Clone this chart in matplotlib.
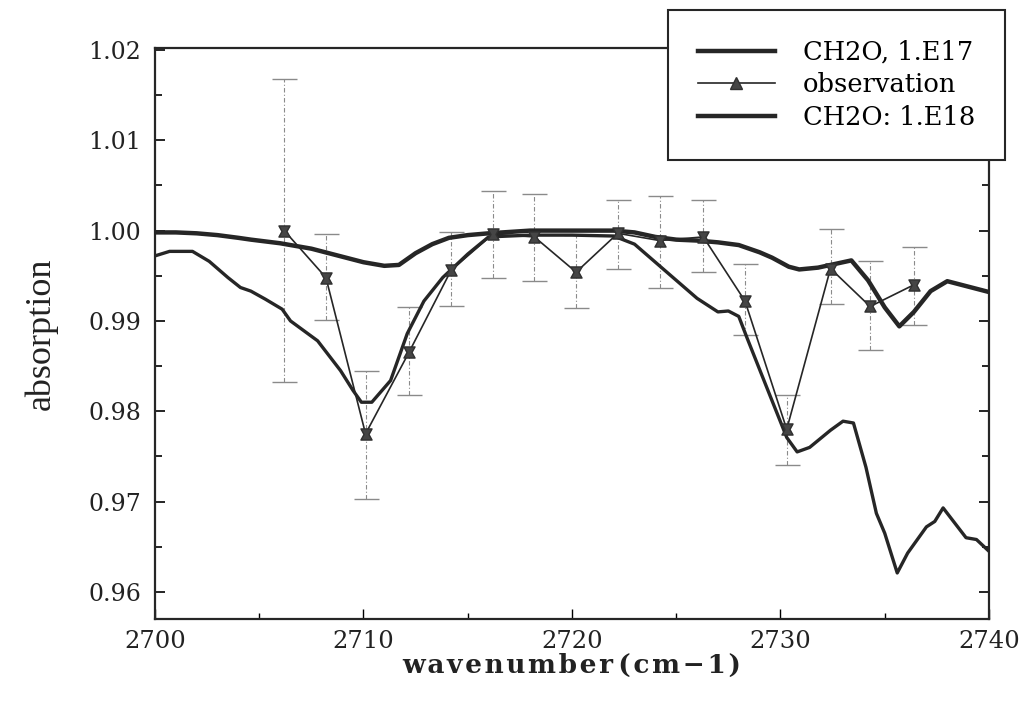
import numpy as np
import matplotlib
matplotlib.use("Agg")
import matplotlib.pyplot as plt
from matplotlib.lines import Line2D
from matplotlib.path import Path

# model spectrum, CH2O column 1.E17
x_e17 = [2700, 2701, 2702, 2703, 2704, 2704.6, 2706, 2707.5, 2709, 2710,
         2711, 2711.7, 2712.5, 2713.3, 2714.1, 2715, 2716, 2718, 2720, 2722,
         2723, 2724, 2725, 2726, 2727, 2728, 2729, 2729.6, 2730.4, 2730.9,
         2731.8, 2732.6, 2733.4, 2734.2, 2735, 2735.7, 2736.4, 2737.2, 2738,
         2739, 2740]
y_e17 = [0.9998, 0.9998, 0.9997, 0.9995, 0.9992, 0.9990, 0.9986, 0.9980,
         0.9971, 0.9965, 0.9961, 0.9962, 0.9975, 0.9985, 0.9992, 0.9995,
         0.9997, 1.0000, 1.0000, 1.0000, 0.9998, 0.9993, 0.9990, 0.9989,
         0.9987, 0.9984, 0.9976, 0.9970, 0.9960, 0.9957, 0.9959, 0.9963,
         0.9967, 0.9945, 0.9915, 0.9894, 0.9910, 0.9933, 0.9944, 0.9938,
         0.9932]

# model spectrum, CH2O column 1.E18
x_e18 = [2700, 2700.7, 2701.8, 2702.6, 2703.5, 2704.1, 2704.6, 2705.3, 2706.1,
         2706.5, 2707.8, 2708.9, 2709.5, 2709.9, 2710.4, 2711.3, 2712.1,
         2712.9, 2713.8, 2715, 2716, 2718, 2720, 2722, 2723, 2724, 2725,
         2726, 2727, 2727.5, 2728, 2728.4, 2729.4, 2730.3, 2730.8, 2731.4,
         2732.4, 2733, 2733.5, 2734.1, 2734.6, 2735, 2735.6, 2736.1, 2737,
         2737.4, 2737.8, 2738.9, 2739.4, 2740]
y_e18 = [0.9972, 0.9977, 0.9977, 0.9966, 0.9948, 0.9937, 0.9933, 0.9924,
         0.9913, 0.9900, 0.9878, 0.9845, 0.9823, 0.9810, 0.9810, 0.9834,
         0.9886, 0.9922, 0.9948, 0.9974, 0.9993, 0.9995, 0.9995, 0.9994,
         0.9985, 0.9965, 0.9945, 0.9925, 0.9910, 0.9911, 0.9905, 0.9881,
         0.9823, 0.9771, 0.9755, 0.9760, 0.9779, 0.9789, 0.9787, 0.9738,
         0.9687, 0.9665, 0.9621, 0.9643, 0.9672, 0.9678, 0.9693, 0.9660,
         0.9658, 0.9645]

# observation with error bars
x_obs = [2706.2, 2708.2, 2710.1, 2712.2, 2714.2, 2716.2, 2718.2, 2720.2,
         2722.2, 2724.2, 2726.3, 2728.3, 2730.3, 2732.4, 2734.3, 2736.4]
y_obs = [1.0000, 0.9948, 0.9775, 0.9866, 0.9956, 0.9996, 0.9993, 0.9954,
         0.9997, 0.9989, 0.9993, 0.9922, 0.9780, 0.9958, 0.9916, 0.9940]
err_hi = [1.0168, 0.9996, 0.9845, 0.9915, 0.9999, 1.0044, 1.0040, 0.9995,
          1.0034, 1.0038, 1.0034, 0.9963, 0.9818, 1.0002, 0.9966, 0.9982]
err_lo = [0.9832, 0.9901, 0.9703, 0.9818, 0.9916, 0.9948, 0.9944, 0.9914,
          0.9958, 0.9936, 0.9954, 0.9884, 0.9741, 0.9919, 0.9868, 0.9895]

y_ticks = [0.96, 0.97, 0.98, 0.99, 1.00, 1.01, 1.02]
x_ticks = [2700, 2710, 2720, 2730, 2740]

ink = "#262626"
serif = "DejaVu Serif"

fig = plt.figure(figsize=(10.29, 7.08), dpi=100)
ax = fig.add_axes([0.1506, 0.1257, 0.8105, 0.8063])

# hourglass marker like the scanned plot
hourglass = Path([(-1, 1), (1, 1), (0.45, 0), (1, -1), (-1, -1), (-0.45, 0), (-1, 1)],
                 [Path.MOVETO] + [Path.LINETO] * 5 + [Path.CLOSEPOLY])

y_obs_a = np.array(y_obs)
yerr = [y_obs_a - np.array(err_lo), np.array(err_hi) - y_obs_a]
eb = ax.errorbar(x_obs, y_obs, yerr=yerr, fmt="none", ecolor="#8a8a8a",
                 elinewidth=0.8, capsize=9, capthick=1.0, zorder=2)
eb[2][0].set_linestyle((0, (4, 2, 1, 2)))

ax.plot(x_e17, y_e17, color=ink, lw=3.2, zorder=3)
ax.plot(x_e18, y_e18, color=ink, lw=2.4, zorder=3)
ax.plot(x_obs, y_obs, color=ink, lw=1.2, marker=hourglass, ms=8,
        mfc="#454545", mec="#303030", zorder=4)

ax.set_xlim(2700, 2740)
ax.set_ylim(0.957, 1.0202)
ax.set_xticks(x_ticks)
ax.set_xticks(np.arange(2705, 2740, 10), minor=True)
ax.set_yticks(y_ticks)
ax.set_yticks(np.arange(0.965, 1.02, 0.01), minor=True)
ax.set_yticklabels([f"{v:.2f}" for v in y_ticks])
ax.tick_params(axis="y", which="both", direction="in", left=True, right=True,
               labelsize=17, pad=10, width=1.2)
ax.tick_params(axis="y", which="major", length=7)
ax.tick_params(axis="y", which="minor", length=5)
ax.tick_params(axis="x", which="both", direction="in", top=False,
               labelsize=17.5, pad=8, width=1.0)
ax.tick_params(axis="x", which="major", length=7)
ax.tick_params(axis="x", which="minor", length=4)
for lab in ax.get_xticklabels() + ax.get_yticklabels():
    lab.set_family(serif)
    lab.set_color("#222222")
for sp in ax.spines.values():
    sp.set_linewidth(1.6)
    sp.set_color(ink)

ax.set_xlabel("w a v e n u m b e r  ( c m \u2212 1 )".replace(" ", "\u200a"),
              family=serif, fontsize=19, fontweight="bold", labelpad=0,
              color="#222222")
ax.set_ylabel("absorption", family="Liberation Serif", fontsize=26,
              labelpad=22, color="#222222")

handles = [Line2D([], [], color=ink, lw=3.2),
           Line2D([], [], color=ink, lw=1.2, marker="^", ms=8, mfc="#454545", mec="#303030"),
           Line2D([], [], color=ink, lw=3.2)]
labels = ["CH2O, 1.E17", "observation", "CH2O: 1.E18"]
leg = fig.legend(handles, labels, loc="upper left",
                 bbox_to_anchor=(668 / 1029, 1 - 10 / 708),
                 prop={"family": serif, "size": 18.5}, frameon=True,
                 fancybox=False, framealpha=1, edgecolor=ink,
                 handlelength=3.0, handletextpad=1.1, labelspacing=0.3,
                 borderpad=1.15, borderaxespad=0)
leg.get_frame().set_linewidth(1.5)

fig.savefig("out.png", dpi=100)
